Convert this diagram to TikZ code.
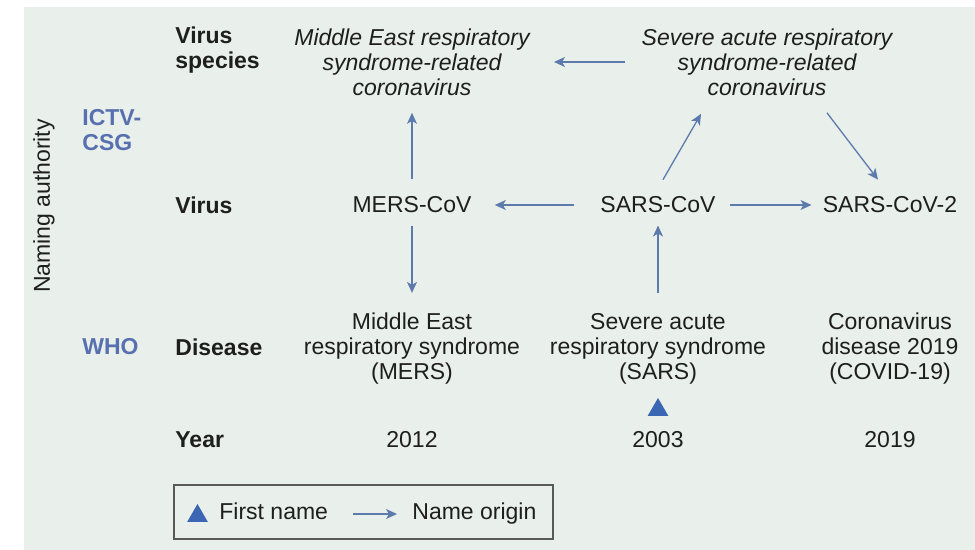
\documentclass[tikz,border=0pt]{standalone}
\usepackage{fontspec}
\setmainfont{Liberation Sans}
\usetikzlibrary{arrows.meta,shapes.geometric}
\definecolor{bgcol}{RGB}{233,239,234}
\definecolor{arrcol}{RGB}{92,122,172}
\definecolor{authcol}{RGB}{88,112,176}
\definecolor{tricol}{RGB}{58,102,180}
\definecolor{inkcol}{RGB}{30,30,30}

\begin{document}
\begin{tikzpicture}[x=0.5pt,y=-0.5pt,
    txt/.style={font=\fontsize{11.5}{12.5}\selectfont, text=inkcol, inner sep=0pt, align=center},
    spc/.style={txt, font=\fontsize{11.5}{12.5}\selectfont\itshape},
    lbl/.style={txt, font=\fontsize{11.5}{12.5}\selectfont\bfseries, anchor=west, align=left},
    auth/.style={lbl, text=authcol},
    legtxt/.style={txt, anchor=west, text height=8.5pt, text depth=2.5pt},
    firstmark/.style={regular polygon, regular polygon sides=3, fill=tricol, inner sep=0pt, minimum size=12pt},
    arr/.style={draw=arrcol, line width=0.65pt, -{Stealth[length=5.5pt,width=5pt,inset=1.5pt]}}]
      \useasboundingbox (0,0) rectangle (975,550);
      \fill[white] (0,0) rectangle (975,550);
      \fill[bgcol] (24,7) rectangle (975,550);
      % row and authority labels
      \node[txt, rotate=90] (naming) at (44,206) {Naming authority};
      \node[auth] (ictv) at (82,130) {ICTV-\\CSG};
      \node[auth] (who) at (82,347) {WHO};
      \node[lbl] (lspec) at (175,50) {Virus\\species};
      \node[lbl] (lvir) at (175,205) {Virus};
      \node[lbl] (ldis) at (175,347) {Disease};
      \node[lbl] (lyear) at (175,440) {Year};
      % names
      \node[spc] (mspec) at (412,62) {Middle East respiratory\\syndrome-related\\coronavirus};
      \node[spc] (sspec) at (767,62) {Severe acute respiratory\\syndrome-related\\coronavirus};
      \node[txt] (mcov) at (412,205) {MERS-CoV};
      \node[txt] (scov) at (658,205) {SARS-CoV};
      \node[txt] (scov2) at (890,205) {SARS-CoV-2};
      \node[txt] (mdis) at (412,349) {Middle East\\respiratory syndrome\\(MERS)};
      \node[txt] (sdis) at (658,349) {Severe acute\\respiratory syndrome\\(SARS)};
      \node[txt] (cdis) at (890,349) {Coronavirus\\disease 2019\\(COVID-19)};
      \node[firstmark] (first) at (658,410) {};
      \node[txt] (myear) at (412,440) {2012};
      \node[txt] (syear) at (658,440) {2003};
      \node[txt] (cyear) at (890,440) {2019};
      % name origins
      \draw[arr, shorten <=8pt, shorten >=12pt] (sspec.west) -- (mspec.east);
      \draw[arr, shorten <=8.5pt, shorten >=8.5pt] (mcov.north) -- (mspec.south);
      \draw[arr, shorten <=6pt, shorten >=10pt] (mcov.south) -- (mdis.north);
      \draw[arr, shorten <=13pt, shorten >=11.5pt] (scov.west) -- (mcov.east);
      \draw[arr, shorten <=7pt, shorten >=5.5pt] (scov.east) -- (scov2.west);
      \draw[arr, shorten <=10pt, shorten >=6pt] (sdis.north) -- (scov.south);
      \draw[arr] ([xshift=2.5pt,yshift=8.4pt]scov.north) -- ([xshift=-33pt,yshift=-9pt]sspec.south);
      \draw[arr] ([xshift=30pt,yshift=-8.5pt]sspec.south) -- ([xshift=-6pt,yshift=8.4pt]scov2.north);
      % legend
      \draw[draw=black!65, line width=0.6pt] (174,485) rectangle (553,539);
      \node[firstmark] (legmark) at (197.5,516) {};
      \node[legtxt] (legfirst) at (219,514) {First name};
      \node[legtxt] (legorig) at (412,514) {Name origin};
      \draw[arr, shorten <=12.5pt, shorten >=7.5pt] (legfirst.east) -- (legorig.west);
\end{tikzpicture}
\end{document}
